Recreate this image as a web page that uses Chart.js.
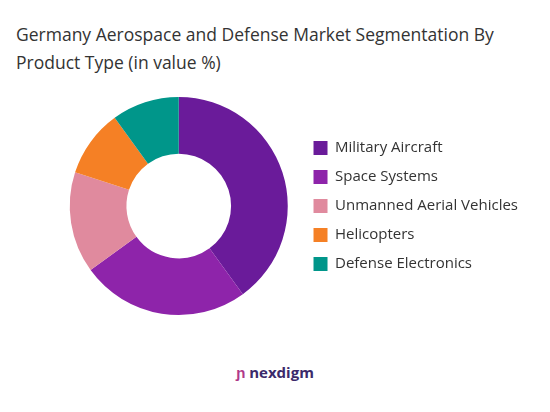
<!DOCTYPE html>
<html>
<head>
<meta charset="utf-8">
<script src="https://cdn.jsdelivr.net/npm/chart.js@4"></script>
<style>
body{margin:0;width:550px;height:412px;background:#fff;font-family:"Open Sans",sans-serif;position:relative;overflow:hidden}
#title{position:absolute;left:16px;top:20px;font-size:17.5px;line-height:28px;color:#333}
#wrap{position:absolute;left:0;top:95px;width:536px;height:222px}
#logo{position:absolute;left:0;width:550px;top:362px;text-align:center;font-size:15px;font-weight:bold;color:#3b2a6b}
#logo span{color:#b03a8a}
</style>
</head>
<body>
<div id="title">Germany Aerospace and Defense Market Segmentation By<br>Product Type (in value %)</div>
<div id="wrap"><canvas id="myChart"></canvas></div>
<div id="logo"><span>ɲ</span> nexdigm</div>
<script>
var categories = ["Military Aircraft","Space Systems","Unmanned Aerial Vehicles","Helicopters","Defense Electronics"];
var shares = [40,25,15,10,10];
var colors = ["#6a1b9a","#8e24aa","#e08a9e","#f58025","#00968a"];

var ctx = document.getElementById("myChart").getContext('2d');
var chart = new Chart(ctx, {
	type: 'doughnut',
	data: {
		labels: categories,
		datasets: [{
			data: shares,
			backgroundColor: colors,
			borderWidth: 0
		}]
	},
	options: {
		responsive: true,
		maintainAspectRatio: false,
		animation: false,
		cutout: '48%',
		layout: {padding: {left: 58, right: 8, top: 2, bottom: 2}},
		plugins: {
			tooltip: {enabled: false},
			legend: {
				position: 'right',
				labels: {
					boxWidth: 14,
					boxHeight: 14,
					padding: 14,
					color: '#333',
					font: {size: 15, family: 'Open Sans'}
				}
			}
		}
	}
});
</script>
</body>
</html>
